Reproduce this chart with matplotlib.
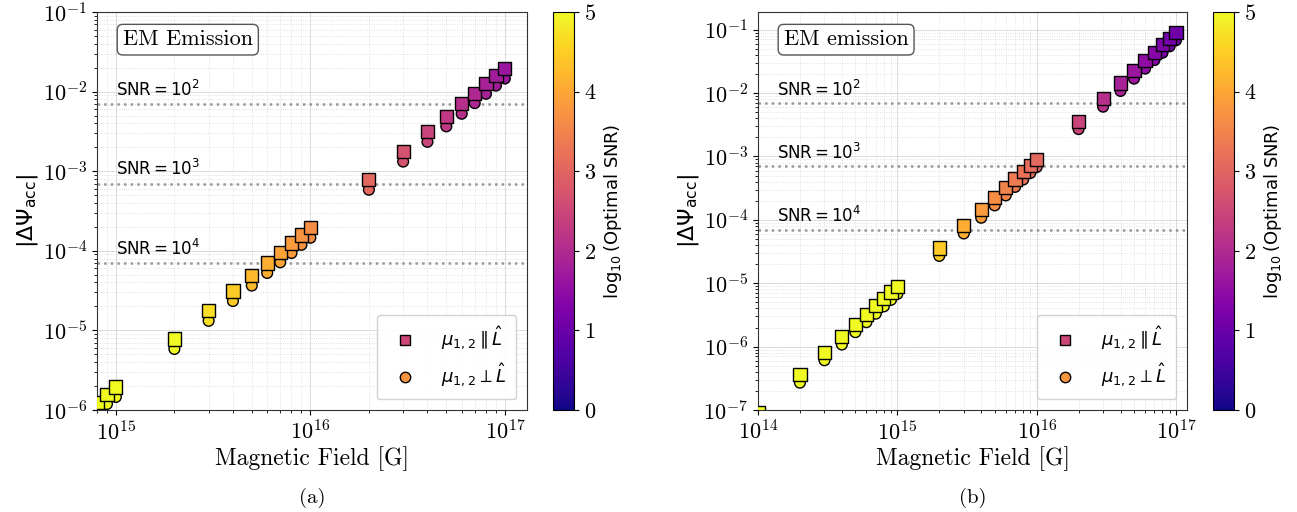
import numpy as np
import matplotlib
matplotlib.use('Agg')
import matplotlib.pyplot as plt
from matplotlib.lines import Line2D

plt.rcParams['font.family'] = 'serif'
plt.rcParams['font.serif'] = ['cmr10', 'DejaVu Serif']
plt.rcParams['mathtext.fontset'] = 'dejavusans'
plt.rcParams['axes.formatter.use_mathtext'] = True

# ---- panel (a): EM Emission ----
field_a = [0.8e15, 0.9e15, 1e15, 2e15, 3e15, 4e15, 5e15, 6e15, 7e15, 8e15, 9e15,
           1e16, 2e16, 3e16, 4e16, 5e16, 6e16, 7e16, 8e16, 9e16, 1e17]
psi_par_a = [1.25e-6, 1.58e-6, 1.95e-6, 7.8e-6, 1.76e-5, 3.12e-5, 4.88e-5, 7.02e-5,
             9.56e-5, 1.25e-4, 1.58e-4, 1.95e-4, 7.8e-4, 1.76e-3, 3.12e-3, 4.88e-3,
             7.02e-3, 9.56e-3, 1.25e-2, 1.58e-2, 1.95e-2]
psi_perp_a = [0.94e-6, 1.19e-6, 1.46e-6, 5.85e-6, 1.32e-5, 2.34e-5, 3.66e-5, 5.27e-5,
              7.17e-5, 9.38e-5, 1.19e-4, 1.46e-4, 5.85e-4, 1.32e-3, 2.34e-3, 3.66e-3,
              5.27e-3, 7.17e-3, 9.38e-3, 1.19e-2, 1.46e-2]
logsnr_a = [5.84, 5.74, 5.65, 5.05, 4.70, 4.45, 4.25, 4.09, 3.96, 3.84, 3.74,
            3.65, 3.05, 2.70, 2.45, 2.25, 2.09, 1.96, 1.84, 1.74, 1.65]

# ---- panel (b): EM emission ----
field_b = [1e14, 2e14, 3e14, 4e14, 5e14, 6e14, 7e14, 8e14, 9e14,
           1e15, 2e15, 3e15, 4e15, 5e15, 6e15, 7e15, 8e15, 9e15,
           1e16, 2e16, 3e16, 4e16, 5e16, 6e16, 7e16, 8e16, 9e16, 1e17]
psi_par_b = [9.0e-8, 3.6e-7, 8.1e-7, 1.44e-6, 2.25e-6, 3.24e-6, 4.41e-6, 5.76e-6, 7.29e-6,
             9.0e-6, 3.6e-5, 8.1e-5, 1.44e-4, 2.25e-4, 3.24e-4, 4.41e-4, 5.76e-4, 7.29e-4,
             9.0e-4, 3.6e-3, 8.1e-3, 1.44e-2, 2.25e-2, 3.24e-2, 4.41e-2, 5.76e-2, 7.29e-2, 9.0e-2]
psi_perp_b = [6.8e-8, 2.7e-7, 6.1e-7, 1.08e-6, 1.69e-6, 2.43e-6, 3.31e-6, 4.32e-6, 5.47e-6,
              6.8e-6, 2.7e-5, 6.1e-5, 1.08e-4, 1.69e-4, 2.43e-4, 3.31e-4, 4.32e-4, 5.47e-4,
              6.8e-4, 2.7e-3, 6.1e-3, 1.08e-2, 1.69e-2, 2.43e-2, 3.31e-2, 4.32e-2, 5.47e-2, 6.8e-2]
logsnr_b = [7.05, 6.45, 6.10, 5.85, 5.65, 5.50, 5.36, 5.24, 5.14,
            5.05, 4.45, 4.10, 3.85, 3.65, 3.49, 3.36, 3.24, 3.14,
            3.05, 2.45, 2.10, 1.85, 1.65, 1.49, 1.36, 1.24, 1.14, 1.05]

snr_levels = [2, 3, 4]
snr_psi = [7e-3, 7e-4, 7e-5]

panels = [
    dict(B=field_a, par=psi_par_a, perp=psi_perp_a, c=logsnr_a, title='EM Emission',
         xlim=(8e14, 1.3e17), ylim=(1e-6, 1e-1), caption='(a)'),
    dict(B=field_b, par=psi_par_b, perp=psi_perp_b, c=logsnr_b, title='EM emission',
         xlim=(1e14, 1.2e17), ylim=(1e-7, 0.19), caption='(b)'),
]

fig = plt.figure(figsize=(12.97, 5.12), dpi=100)
W, H = 1297, 512
ax_px = [(97, 527, 553), (758, 1187, 1213)]

cmap = plt.get_cmap('plasma')

for p, (x0, x1, cx) in zip(panels, ax_px):
    ax = fig.add_axes([x0 / W, (H - 410) / H, (x1 - x0) / W, 398 / H])
    cax = fig.add_axes([cx / W, (H - 410) / H, 21 / W, 398 / H])

    ax.set_xscale('log')
    ax.set_yscale('log')

    # circles first, squares on top
    ax.scatter(p['B'], p['perp'], c=p['c'], cmap=cmap, vmin=0, vmax=5, marker='o',
               s=60, edgecolors='black', linewidths=1.0, zorder=3)
    sc = ax.scatter(p['B'], p['par'], c=p['c'], cmap=cmap, vmin=0, vmax=5, marker='s',
                    s=90, edgecolors='black', linewidths=1.0, zorder=4)

    for lvl, yv in zip(snr_levels, snr_psi):
        ax.axhline(yv, color='gray', linestyle=':', linewidth=1.8, alpha=0.8, zorder=2)
        ax.text(0.045, yv * 1.13, r'$\mathrm{SNR} = 10^{%d}$' % lvl, transform=ax.get_yaxis_transform(),
                fontsize=12, family='DejaVu Sans', ha='left', va='bottom')

    ax.set_xlim(*p['xlim'])
    ax.set_ylim(*p['ylim'])

    ax.grid(True, which='major', color='#cccccc', linestyle='-', linewidth=0.6, alpha=0.8)
    ax.grid(True, which='minor', color='#d5d5d5', linestyle=':', linewidth=0.6, alpha=0.9)
    ax.set_axisbelow(True)
    for s in ax.spines.values():
        s.set_color('#333333')
    ax.tick_params(labelsize=16)

    ax.text(0.06, 0.955, p['title'], transform=ax.transAxes, fontsize=16, ha='left', va='top',
            bbox=dict(boxstyle='round,pad=0.25', facecolor='white', edgecolor='#555555'))

    ax.set_xlabel('Magnetic Field [G]', fontsize=17, labelpad=2)
    ax.set_ylabel(r'$|\Delta\Psi_{\rm acc}|$', fontsize=16, labelpad=2)

    handles = [
        Line2D([0], [0], marker='s', ls='none', markersize=7.5, markerfacecolor=cmap(0.5),
               markeredgecolor='black', label=r'$\mu_{1,2} \parallel \hat{L}$'),
        Line2D([0], [0], marker='o', ls='none', markersize=7.5, markerfacecolor=cmap(0.75),
               markeredgecolor='black', label=r'$\mu_{1,2} \perp \hat{L}$'),
    ]
    ax.legend(handles=handles, loc='lower right', fontsize=13, labelspacing=0.55,
              handletextpad=1.0, borderpad=0.55, framealpha=0.9, borderaxespad=0.6)

    cb = fig.colorbar(sc, cax=cax, ticks=[0, 1, 2, 3, 4, 5])
    cb.ax.tick_params(labelsize=16)
    cb.set_label(r'$\log_{10}(\mathrm{Optimal\ SNR})$', fontsize=13, family='DejaVu Sans')

    fig.text((x0 + x1) / 2 / W, 1 - 498 / H, p['caption'], fontsize=15, ha='center', va='center')

plt.savefig('out.png', dpi=100)
